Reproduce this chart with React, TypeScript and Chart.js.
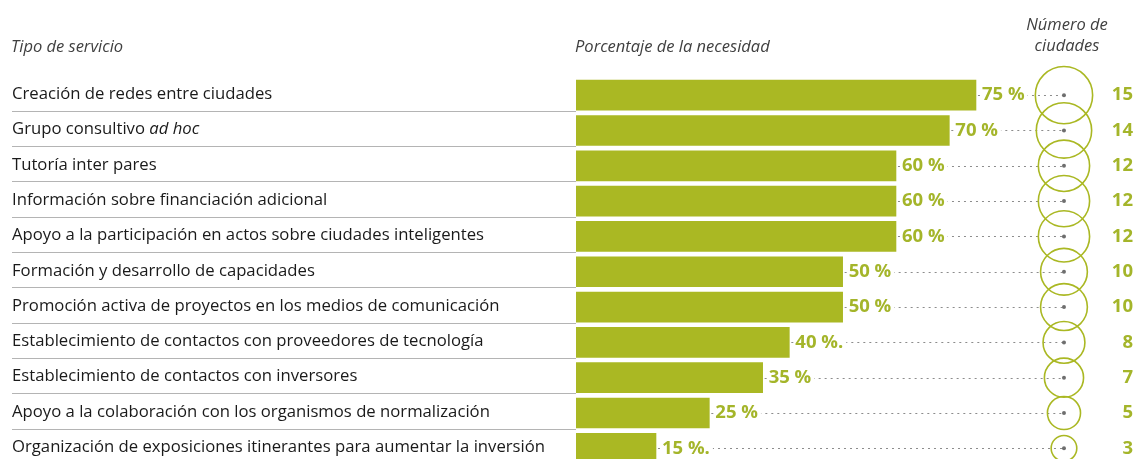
import React, { useEffect, useRef } from "react";
import { Chart, registerables } from "chart.js";

Chart.register(...registerables);

const categories = [
  "Creación de redes entre ciudades",
  "Grupo consultivo ad hoc",
  "Tutoría inter pares",
  "Información sobre financiación adicional",
  "Apoyo a la participación en actos sobre ciudades inteligentes",
  "Formación y desarrollo de capacidades",
  "Promoción activa de proyectos en los medios de comunicación",
  "Establecimiento de contactos con proveedores de tecnología",
  "Establecimiento de contactos con inversores",
  "Apoyo a la colaboración con los organismos de normalización",
  "Organización de exposiciones itinerantes para aumentar la inversión",
];
const needPct = [75, 70, 60, 60, 60, 50, 50, 40, 35, 25, 15];
const pctLabels = ["75 %", "70 %", "60 %", "60 %", "60 %", "50 %", "50 %", "40 %.", "35 %", "25 %", "15 %."];
const cityCounts = [15, 14, 12, 12, 12, 10, 10, 8, 7, 5, 3];
const italicPhrase = "ad hoc";
const headerService = "Tipo de servicio";
const headerPct = "Porcentaje de la necesidad";
const headerCities = ["Número de", "ciudades"];

const GREEN = "#aab823";
const LABEL_GREEN = "#a4b52a";
const FONT = "'Open Sans', sans-serif";
const CAT_SIZE = 16.7;

const overlayPlugin = {
  id: "overlay",
  afterDatasetsDraw(chart: any) {
    const ctx = chart.ctx as CanvasRenderingContext2D;
    const xs = chart.scales.x;
    const ys = chart.scales.y;
    const circleX = xs.getPixelForValue(91.5);
    const numRight = 1133;
    ctx.save();

    // headers
    ctx.fillStyle = "#404040";
    ctx.font = `italic 16.5px ${FONT}`;
    ctx.textBaseline = "middle";
    ctx.textAlign = "left";
    ctx.fillText(headerService, 11, 47);
    ctx.fillText(headerPct, xs.left - 1, 47);
    ctx.textAlign = "center";
    ctx.fillText(headerCities[0], circleX + 3, 25);
    ctx.fillText(headerCities[1], circleX + 3, 46);

    categories.forEach((cat, i) => {
      const cy = ys.getPixelForValue(i);
      // separator
      if (i < categories.length - 1) {
        ctx.strokeStyle = "#b4b4b4";
        ctx.lineWidth = 1;
        ctx.setLineDash([]);
        ctx.beginPath();
        ctx.moveTo(12, Math.round(cy + 15.5) + 0.5);
        ctx.lineTo(xs.left, Math.round(cy + 15.5) + 0.5);
        ctx.stroke();
      }
      // category text (with italic phrase)
      ctx.fillStyle = "#1a1a1a";
      ctx.textAlign = "left";
      ctx.textBaseline = "middle";
      const idx = cat.indexOf(italicPhrase);
      let tx = 12;
      if (idx >= 0) {
        const before = cat.slice(0, idx);
        ctx.font = `${CAT_SIZE}px ${FONT}`;
        ctx.fillText(before, tx, cy - 1);
        tx += ctx.measureText(before).width;
        ctx.font = `italic ${CAT_SIZE}px ${FONT}`;
        ctx.fillText(italicPhrase, tx, cy - 1);
      } else {
        ctx.font = `${CAT_SIZE}px ${FONT}`;
        ctx.fillText(cat, tx, cy - 1);
      }

      // dotted leader
      const barEnd = xs.getPixelForValue(needPct[i]);
      ctx.strokeStyle = "#8c8c8c";
      ctx.lineWidth = 1;
      ctx.setLineDash([2, 4]);
      ctx.beginPath();
      ctx.moveTo(barEnd + 2, Math.round(cy) + 0.5);
      ctx.lineTo(circleX, Math.round(cy) + 0.5);
      ctx.stroke();
      ctx.setLineDash([]);

      // pct label
      ctx.font = `bold 18.5px ${FONT}`;
      const lx = barEnd + 6;
      const lw = ctx.measureText(pctLabels[i]).width;
      ctx.fillStyle = "#ffffff";
      ctx.fillRect(lx - 1, cy - 10, lw + 4, 20);
      ctx.fillStyle = LABEL_GREEN;
      ctx.fillText(pctLabels[i], lx, cy);
    });

    // circles
    cityCounts.forEach((n, i) => {
      const cy = ys.getPixelForValue(i);
      const r = 7.4 * Math.sqrt(n);
      ctx.strokeStyle = GREEN;
      ctx.lineWidth = 1.6;
      ctx.beginPath();
      ctx.arc(circleX, cy, r, 0, Math.PI * 2);
      ctx.stroke();
      ctx.fillStyle = "#6e6e6e";
      ctx.beginPath();
      ctx.arc(circleX, cy, 2, 0, Math.PI * 2);
      ctx.fill();
      ctx.fillStyle = LABEL_GREEN;
      ctx.font = `bold 18.5px ${FONT}`;
      ctx.textAlign = "right";
      ctx.textBaseline = "middle";
      ctx.fillText(String(n), numRight, cy);
    });
    ctx.restore();
  },
};

export default function App() {
  const ref = useRef<HTMLCanvasElement | null>(null);
  useEffect(() => {
    if (!ref.current) return;
    const chart = new Chart(ref.current, {
      type: "bar",
      data: {
        labels: categories,
        datasets: [
          {
            data: needPct,
            backgroundColor: GREEN,
            borderWidth: 0,
            barThickness: 30,
          },
        ],
      },
      options: {
        indexAxis: "y",
        responsive: false,
        animation: false,
        devicePixelRatio: 1,
        layout: { padding: { left: 576, right: 26.7, top: 77.5, bottom: 4 } },
        plugins: { legend: { display: false }, tooltip: { enabled: false } },
        scales: {
          x: { min: 0, max: 100, display: false },
          y: { display: false, offset: true },
        },
      },
      plugins: [overlayPlugin],
    });
    return () => chart.destroy();
  }, []);
  return (
    <div style={{ position: "fixed", left: 0, top: 0, width: 1136, height: 459, overflow: "hidden", background: "#fff" }}>
      <canvas ref={ref} width={1136} height={470} style={{ width: 1136, height: 470, display: "block" }} />
    </div>
  );
}
